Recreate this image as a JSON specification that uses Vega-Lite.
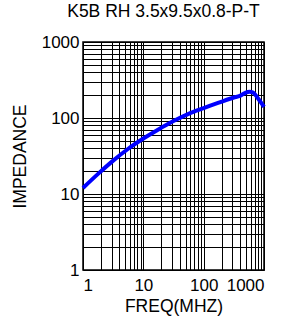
{
  "$schema": "https://vega.github.io/schema/vega-lite/v6.json",
  "autosize": "none",
  "width": 181,
  "height": 228,
  "padding": {"left": 83, "top": 42, "right": 24, "bottom": 50},
  "background": "white",
  "title": {
    "text": "K5B RH 3.5x9.5x0.8-P-T",
    "font": "Liberation Sans",
    "fontSize": 17.5,
    "fontWeight": "normal",
    "color": "black",
    "anchor": "middle",
    "dx": -10,
    "offset": 13
  },
  "config": {
    "view": {"stroke": "black", "strokeWidth": 1.5},
    "axis": {
      "labelFont": "Liberation Sans",
      "titleFont": "Liberation Sans",
      "labelFontSize": 17,
      "titleFontSize": 17.5,
      "titleFontWeight": "normal",
      "labelColor": "black",
      "titleColor": "black",
      "gridColor": "black",
      "gridOpacity": 1,
      "gridWidth": 1,
      "ticks": false,
      "domain": false,
      "labelOverlap": false
    }
  },
  "data": {
    "values": [
      {"f": 1, "z": 12.0},
      {"f": 1.778, "z": 18.4},
      {"f": 3.162, "z": 27.5},
      {"f": 5.623, "z": 39.4},
      {"f": 10, "z": 53.7},
      {"f": 17.78, "z": 70.8},
      {"f": 31.62, "z": 91.2},
      {"f": 56.23, "z": 113.5},
      {"f": 100, "z": 135},
      {"f": 177.8, "z": 159},
      {"f": 316.2, "z": 186},
      {"f": 398, "z": 196},
      {"f": 484, "z": 213},
      {"f": 575, "z": 221},
      {"f": 661, "z": 216},
      {"f": 766, "z": 189},
      {"f": 871, "z": 164},
      {"f": 1000, "z": 140}
    ]
  },
  "mark": {"type": "line", "color": "#0000ff", "strokeWidth": 4, "interpolate": "monotone"},
  "encoding": {
    "x": {
      "field": "f",
      "type": "quantitative",
      "scale": {"type": "log", "domain": [1, 1000], "nice": false},
      "axis": {
        "title": "FREQ(MHZ)",
        "values": [1,2,3,4,5,6,7,8,9,10,20,30,40,50,60,70,80,90,100,200,300,400,500,600,700,800,900,1000],
        "labelExpr": "indexof([1,10,100,1000], datum.value) >= 0 ? datum.value : ''",
        "labelPadding": 7,
        "titlePadding": 4
      }
    },
    "y": {
      "field": "z",
      "type": "quantitative",
      "scale": {"type": "log", "domain": [1, 1000], "nice": false},
      "axis": {
        "title": "IMPEDANCE",
        "values": [1,2,3,4,5,6,7,8,9,10,20,30,40,50,60,70,80,90,100,200,300,400,500,600,700,800,900,1000],
        "labelExpr": "indexof([1,10,100,1000], datum.value) >= 0 ? datum.value : ''",
        "labelPadding": 4,
        "titlePadding": 12
      }
    }
  }
}
